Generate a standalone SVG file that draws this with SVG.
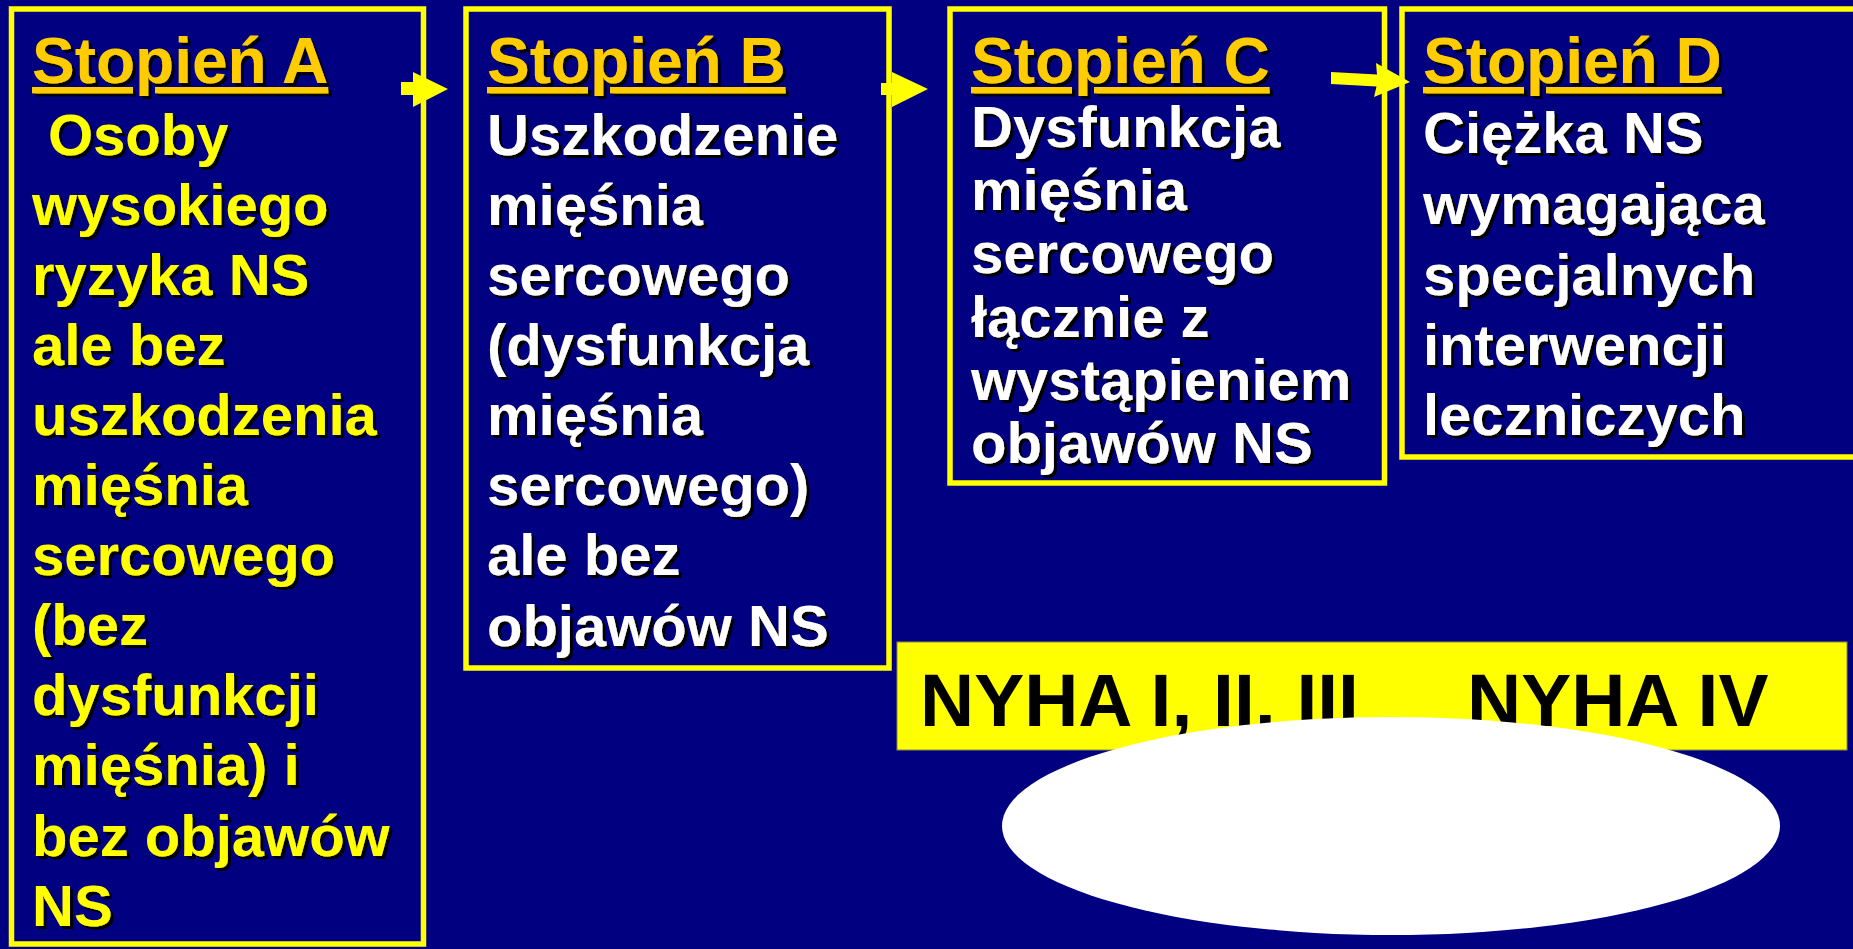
<svg xmlns="http://www.w3.org/2000/svg" width="1853" height="949" viewBox="0 0 1853 949">
<defs>
<filter id="sh" x="-5%" y="-5%" width="115%" height="120%">
<feDropShadow dx="3" dy="3" stdDeviation="0" flood-color="#000000" flood-opacity="1"/>
</filter>
<style>
.box{fill:none;stroke:#FFFF00;stroke-width:5.5}
.t{font-family:"Liberation Sans",Arial,sans-serif;font-weight:bold}
.title{font-size:64px;fill:#FFCC00;text-decoration:underline}
.by{font-size:58px;fill:#FFFF00}
.bw{font-size:58px;fill:#FFFFFF}
.arr{fill:#FFFF00}
.nyha{font-family:"Liberation Sans",Arial,sans-serif;font-weight:bold;font-size:75px;fill:#000000}
</style>
</defs>
<rect x="0" y="0" width="1853" height="949" fill="#000080"/>

<g id="nodeA">
<rect class="box" x="11.5" y="9" width="412" height="935"/>
<g class="t" filter="url(#sh)">
<text class="title" x="32" y="83">Stopień A</text>
<text class="by" x="48" y="155">Osoby</text>
<text class="by" x="32" y="225">wysokiego</text>
<text class="by" x="32" y="295">ryzyka NS</text>
<text class="by" x="32" y="365">ale bez</text>
<text class="by" x="32" y="435">uszkodzenia</text>
<text class="by" x="32" y="505">mięśnia</text>
<text class="by" x="32" y="575">sercowego</text>
<text class="by" x="32" y="645">(bez</text>
<text class="by" x="32" y="715">dysfunkcji</text>
<text class="by" x="32" y="785">mięśnia) i</text>
<text class="by" x="32" y="856">bez objawów</text>
<text class="by" x="32" y="926">NS</text>
</g>
</g>

<g id="nodeB">
<rect class="box" x="466" y="9" width="423" height="659"/>
<g class="t" filter="url(#sh)">
<text class="title" x="487" y="83">Stopień B</text>
<text class="bw" x="487" y="155">Uszkodzenie</text>
<text class="bw" x="487" y="225">mięśnia</text>
<text class="bw" x="487" y="295">sercowego</text>
<text class="bw" x="487" y="365">(dysfunkcja</text>
<text class="bw" x="487" y="435">mięśnia</text>
<text class="bw" x="487" y="505">sercowego)</text>
<text class="bw" x="487" y="575">ale bez</text>
<text class="bw" x="487" y="646">objawów NS</text>
</g>
</g>

<g id="nodeC">
<rect class="box" x="950" y="9" width="434.5" height="474"/>
<g class="t" filter="url(#sh)">
<text class="title" x="971" y="83">Stopień C</text>
<text class="bw" x="971" y="147">Dysfunkcja</text>
<text class="bw" x="971" y="210">mięśnia</text>
<text class="bw" x="971" y="273">sercowego</text>
<text class="bw" x="971" y="337">łącznie z</text>
<text class="bw" x="971" y="400">wystąpieniem</text>
<text class="bw" x="971" y="463">objawów NS</text>
</g>
</g>

<g id="nodeD">
<rect class="box" x="1402" y="9" width="470" height="448"/>
<g class="t" filter="url(#sh)">
<text class="title" x="1423" y="83">Stopień D</text>
<text class="bw" x="1423" y="153">Ciężka NS</text>
<text class="bw" x="1423" y="224">wymagająca</text>
<text class="bw" x="1423" y="295">specjalnych</text>
<text class="bw" x="1423" y="365">interwencji</text>
<text class="bw" x="1423" y="435">leczniczych</text>
</g>
</g>

<g id="connectors">
<polygon class="arr" points="401,82 413,82 413,72 448,89 413,107 413,95 401,95"/>
<polygon class="arr" points="881,83 892,83 892,72 928,89 892,107 892,95 881,95"/>
<polygon class="arr" points="1331,72 1377,74.5 1376,63 1410,82 1374,97 1376.5,86.5 1331,84"/>
</g>

<g id="nyha">
<rect x="897" y="642" width="950" height="108" fill="#FFFF00" stroke="#8a8a40" stroke-width="1"/>
<text class="nyha" x="920" y="726">NYHA I, II, III</text>
<text class="nyha" x="1467" y="726">NYHA IV</text>
</g>

<g id="ellipse">
<ellipse cx="1391" cy="826" rx="389" ry="109" fill="#FFFFFF"/>
</g>
</svg>
